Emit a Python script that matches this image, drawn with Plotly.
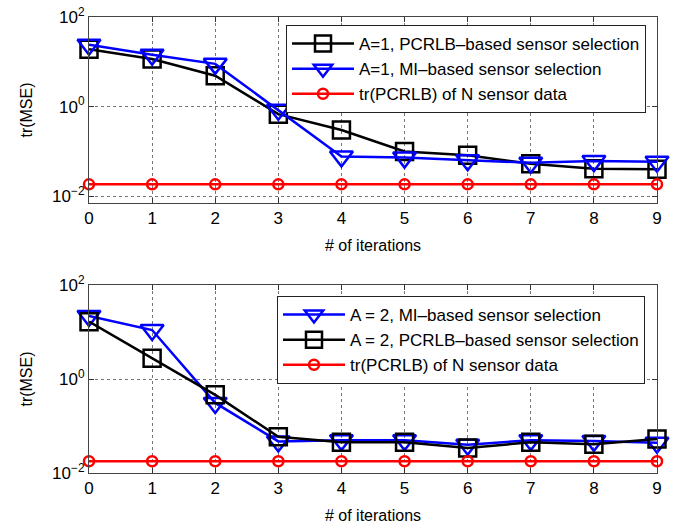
import plotly.graph_objects as go

iterations = [0, 1, 2, 3, 4, 5, 6, 7, 8, 9]

# Top panel (A = 1)
a1_pcrlb = [19, 11.5, 4.9, 0.68, 0.30, 0.10, 0.082, 0.053, 0.041, 0.040]
a1_mi = [24, 14.4, 9.0, 0.85, 0.077, 0.073, 0.064, 0.056, 0.061, 0.059]
a1_bound = [0.0185] * 10

# Bottom panel (A = 2)
a2_mi = [22, 11, 0.31, 0.047, 0.050, 0.050, 0.040, 0.050, 0.048, 0.044]
a2_pcrlb = [16.6, 2.75, 0.46, 0.059, 0.045, 0.045, 0.034, 0.045, 0.041, 0.053]
a2_bound = [0.0178] * 10

y_tickvals = [0.01, 1, 100]
y_ticktext = ["10<sup>−2</sup>", "10<sup>0</sup>", "10<sup>2</sup>"]

FONT = "Liberation Sans, Arial, sans-serif"
BLACK = "#000000"
BLUE = "#0000ff"
RED = "#ff0000"

fig = go.Figure()

def sq(y, name, xa, ya, leg):
    return go.Scatter(x=iterations, y=y, name=name, mode="lines+markers",
                      xaxis=xa, yaxis=ya, legend=leg, cliponaxis=False,
                      line=dict(color=BLACK, width=2.5),
                      marker=dict(symbol="square-open", size=17, color=BLACK,
                                  line=dict(width=2.5, color=BLACK)))

def tri(y, name, xa, ya, leg):
    return go.Scatter(x=iterations, y=y, name=name, mode="lines+markers",
                      xaxis=xa, yaxis=ya, legend=leg, cliponaxis=False,
                      line=dict(color=BLUE, width=2.5),
                      marker=dict(symbol="triangle-down-open", size=20, color=BLUE,
                                  line=dict(width=2.5, color=BLUE)))

def circ(y, name, xa, ya, leg):
    return go.Scatter(x=iterations, y=y, name=name, mode="lines+markers",
                      xaxis=xa, yaxis=ya, legend=leg, cliponaxis=False,
                      line=dict(color=RED, width=2.5),
                      marker=dict(symbol="circle-open", size=10, color=RED,
                                  line=dict(width=2.5, color=RED)))

fig.add_trace(sq(a1_pcrlb, "A=1, PCRLB–based sensor selection", "x", "y", "legend"))
fig.add_trace(tri(a1_mi, "A=1, MI–based sensor selection", "x", "y", "legend"))
fig.add_trace(circ(a1_bound, "tr(PCRLB) of N sensor data", "x", "y", "legend"))

fig.add_trace(tri(a2_mi, "A = 2, MI–based sensor selection", "x2", "y2", "legend2"))
fig.add_trace(sq(a2_pcrlb, "A = 2, PCRLB–based sensor selection", "x2", "y2", "legend2"))
fig.add_trace(circ(a2_bound, "tr(PCRLB) of N sensor data", "x2", "y2", "legend2"))

W, H = 689, 529
x_dom = [89 / W, 657 / W]

xaxis_common = dict(
    range=[0, 9], tickvals=iterations, ticks="inside", ticklen=5,
    tickcolor="#333", showline=True, linecolor="#444", linewidth=1,
    mirror="ticks", showgrid=True, gridcolor="#777", griddash="dot",
    gridwidth=1, zeroline=False, automargin=False,
    tickfont=dict(family=FONT, size=17, color="#000"),
    title=dict(text="# of iterations", font=dict(family=FONT, size=16, color="#000"),
               standoff=12),
)
yaxis_common = dict(
    type="log", tickvals=y_tickvals, ticktext=y_ticktext, ticks="inside",
    ticklen=5, tickcolor="#333", showline=True, linecolor="#444", linewidth=1,
    mirror="ticks", showgrid=True, gridcolor="#777", griddash="dot",
    gridwidth=1, zeroline=False, automargin=False,
    tickfont=dict(family=FONT, size=17, color="#000"),
    title=dict(text="tr(MSE)", font=dict(family=FONT, size=16, color="#000"),
               standoff=15),
)

legend_common = dict(
    bgcolor="white", bordercolor="#222", borderwidth=1,
    font=dict(family=FONT, size=17, color="#000"),
    xanchor="left", yanchor="top", tracegroupgap=0, itemsizing="trace",
    itemwidth=62,
)

fig.update_layout(
    width=W, height=H,
    margin=dict(l=0, r=0, t=0, b=0, autoexpand=False),
    paper_bgcolor="white", plot_bgcolor="white",
    showlegend=True,
    xaxis=dict(domain=x_dom, anchor="y", **xaxis_common),
    yaxis=dict(domain=[1 - 203 / H, 1 - 17 / H], anchor="x",
               range=[-2.15, 2], **yaxis_common),
    xaxis2=dict(domain=x_dom, anchor="y2", **xaxis_common),
    yaxis2=dict(domain=[1 - 473 / H, 1 - 285 / H], anchor="x2",
                range=[-2, 2], **yaxis_common),
    legend=dict(x=286 / W, y=1 - 25 / H, **legend_common),
    legend2=dict(x=277 / W, y=1 - 296 / H, **legend_common),
)

fig.write_html("out.html", config={"displayModeBar": False},
               post_script="document.body.style.margin='0';document.body.style.padding='0';")
